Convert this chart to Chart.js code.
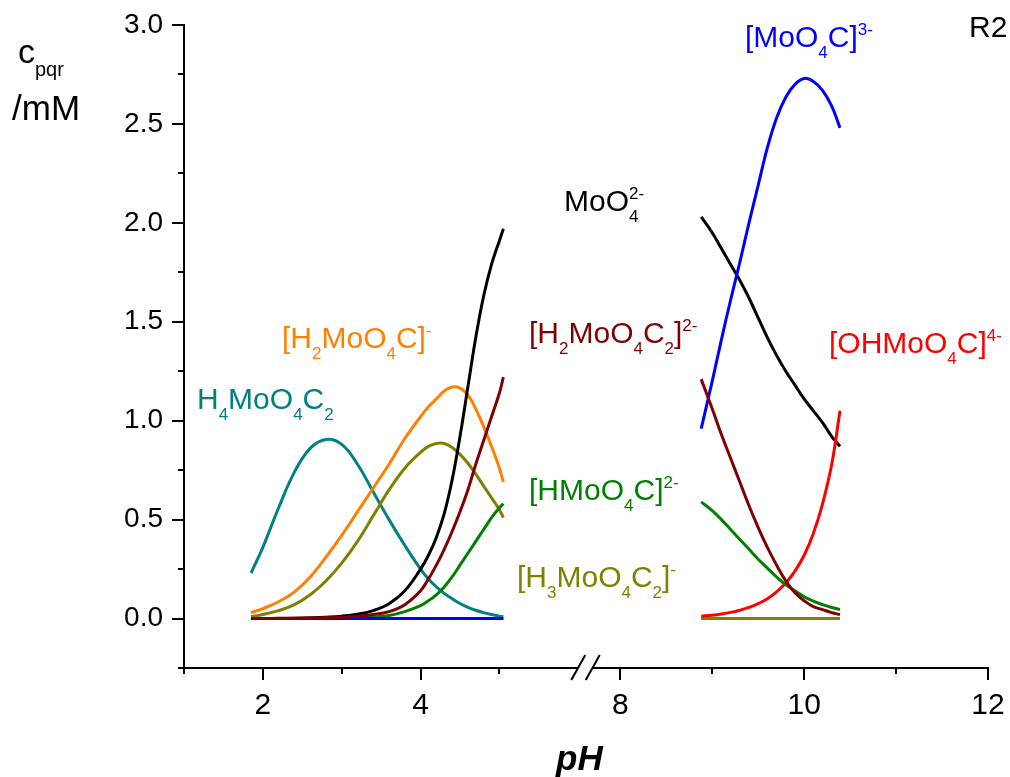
<!DOCTYPE html>
<html>
<head>
<meta charset="utf-8">
<title>c_pqr vs pH (R2)</title>
<script src="https://cdn.jsdelivr.net/npm/chart.js@4.4.1/dist/chart.umd.min.js"></script>
<style>
  html, body { margin: 0; padding: 0; background: #fff; }
  #wrap { width: 1010px; height: 777px; position: relative; }
</style>
</head>
<body>
<div id="wrap"><canvas id="speciesChart"></canvas></div>
<script>
// pH grid of the two calculated ranges (acid side and alkaline side)
const pHLow  = [1.85, 2.0, 2.2, 2.4, 2.6, 2.8, 3.0, 3.2, 3.4, 3.6, 3.8, 4.0, 4.1, 4.2, 4.3, 4.4, 4.5, 4.6, 4.7, 4.8, 4.9, 5.0, 5.05];
const pHHigh = [8.88, 9.0, 9.1, 9.2, 9.3, 9.4, 9.5, 9.6, 9.7, 9.8, 9.9, 10.0, 10.1, 10.2, 10.3, 10.39];

// concentrations / mM, acid side
const h4MoO4C2Low  = [0.23, 0.36, 0.56, 0.74, 0.86, 0.905, 0.88, 0.78, 0.64, 0.50, 0.37, 0.25, 0.20, 0.16, 0.127, 0.10, 0.076, 0.057, 0.042, 0.03, 0.02, 0.012, 0.009];
const h2MoO4CLow   = [0.03, 0.05, 0.085, 0.135, 0.21, 0.31, 0.42, 0.54, 0.66, 0.78, 0.91, 1.02, 1.07, 1.11, 1.15, 1.17, 1.165, 1.13, 1.06, 0.97, 0.87, 0.76, 0.69];
const h3MoO4C2Low  = [0.01, 0.02, 0.04, 0.07, 0.12, 0.19, 0.28, 0.39, 0.52, 0.65, 0.76, 0.84, 0.87, 0.885, 0.885, 0.865, 0.83, 0.785, 0.73, 0.67, 0.61, 0.55, 0.51];
const moO4Low      = [0, 0, 0.001, 0.002, 0.004, 0.007, 0.012, 0.022, 0.04, 0.075, 0.14, 0.25, 0.32, 0.41, 0.53, 0.70, 0.92, 1.17, 1.42, 1.63, 1.79, 1.91, 1.97];
const h2MoO4C2Low  = [0, 0, 0, 0.001, 0.002, 0.004, 0.007, 0.012, 0.02, 0.035, 0.07, 0.14, 0.20, 0.27, 0.35, 0.44, 0.54, 0.65, 0.78, 0.90, 1.02, 1.14, 1.22];
const hMoO4CLow    = [0, 0, 0, 0, 0, 0.001, 0.002, 0.004, 0.008, 0.015, 0.035, 0.065, 0.09, 0.12, 0.16, 0.21, 0.27, 0.33, 0.39, 0.45, 0.51, 0.56, 0.58];
const moO4CLow     = [0, 0, 0, 0, 0, 0, 0, 0, 0, 0, 0, 0, 0, 0, 0, 0, 0, 0, 0, 0, 0, 0, 0];
const ohMoO4CLow   = [0, 0, 0, 0, 0, 0, 0, 0, 0, 0, 0, 0, 0, 0, 0, 0, 0, 0, 0, 0, 0, 0, 0];

// concentrations / mM, alkaline side
const h4MoO4C2High = [0, 0, 0, 0, 0, 0, 0, 0, 0, 0, 0, 0, 0, 0, 0, 0];
const h2MoO4CHigh  = [0, 0, 0, 0, 0, 0, 0, 0, 0, 0, 0, 0, 0, 0, 0, 0];
const h3MoO4C2High = [0, 0, 0, 0, 0, 0, 0, 0, 0, 0, 0, 0, 0, 0, 0, 0];
const moO4High     = [2.03, 1.95, 1.87, 1.79, 1.71, 1.62, 1.52, 1.42, 1.33, 1.25, 1.18, 1.11, 1.05, 0.99, 0.92, 0.87];
const h2MoO4C2High = [1.21, 1.06, 0.93, 0.81, 0.69, 0.57, 0.46, 0.36, 0.27, 0.19, 0.13, 0.09, 0.06, 0.045, 0.03, 0.02];
const hMoO4CHigh   = [0.59, 0.545, 0.50, 0.45, 0.40, 0.35, 0.30, 0.255, 0.21, 0.17, 0.14, 0.11, 0.088, 0.07, 0.056, 0.046];
const moO4CHigh    = [0.96, 1.20, 1.41, 1.61, 1.80, 2.00, 2.19, 2.38, 2.53, 2.635, 2.70, 2.73, 2.715, 2.67, 2.59, 2.48];
const ohMoO4CHigh  = [0.012, 0.017, 0.023, 0.031, 0.042, 0.056, 0.075, 0.10, 0.135, 0.18, 0.24, 0.32, 0.43, 0.58, 0.78, 1.05];

// axis ticks (pH) and their labels
const xTickPH     = [1, 2, 3, 4, 5, 8, 9, 10, 11, 12];
const xTickLabels = ['', '2', '', '4', '', '8', '', '10', '', '12'];

const FONT = '"Liberation Sans", Arial, Helvetica, sans-serif';

// broken pH axis: the alkaline part sits right after the break, slightly wider
const BREAK_LOW = 6.0, BREAK_HIGH = 7.7;
const AXIS_AT_8 = 6.533, HIGH_STRETCH = 1.1657;
function toAxis(pH) {
  return pH < 7 ? pH : AXIS_AT_8 + (pH - 8) * HIGH_STRETCH;
}

function series(low, high) {
  const pts = pHLow.map((p, i) => ({ x: toAxis(p), y: low[i] }));
  pts.push({ x: toAxis(7), y: null });
  pHHigh.forEach((p, i) => pts.push({ x: toAxis(p), y: high[i] }));
  return pts;
}

function line(label, color, low, high) {
  return {
    label, data: series(low, high),
    borderColor: color, backgroundColor: color,
    borderWidth: 3, pointRadius: 0, fill: false,
    tension: 0.4, spanGaps: false
  };
}

// species names: _x subscript, ^x superscript
const speciesLabels = [
  { text: 'H_4MoO_4C_2',   color: '#008080', x: 197, y: 409 },
  { text: '[H_2MoO_4C]^-',  color: '#FF8000', x: 282, y: 348 },
  { text: 'MoO_4^2-',       color: '#000000', x: 564, y: 211 },
  { text: '[H_2MoO_4C_2]^2-', color: '#800000', x: 529, y: 343 },
  { text: '[HMoO_4C]^2-',   color: '#008000', x: 529, y: 500 },
  { text: '[H_3MoO_4C_2]^-', color: '#808000', x: 517, y: 587 },
  { text: '[MoO_4C]^3-',    color: '#0000FF', x: 745, y: 47 },
  { text: '[OHMoO_4C]^4-',  color: '#FF0000', x: 829, y: 353 }
];

function drawChem(ctx, str, x, y, color, size, small) {
  const parts = str.match(/_[0-9a-z]+|\^[0-9+-]+|[^_^]+/g);
  let cx = x, subX = null;
  ctx.fillStyle = color;
  ctx.textAlign = 'left';
  ctx.textBaseline = 'alphabetic';
  parts.forEach(p => {
    if (p[0] === '_') {
      const t = p.slice(1);
      ctx.font = small + 'px ' + FONT;
      ctx.fillText(t, cx, y + size * 0.37);
      subX = cx;
      cx += ctx.measureText(t).width;
    } else if (p[0] === '^') {
      const t = p.slice(1);
      ctx.font = small + 'px ' + FONT;
      const sx = subX !== null ? subX : cx;
      ctx.fillText(t, sx, y - size * 0.4);
      cx = Math.max(cx, sx + ctx.measureText(t).width);
      subX = null;
    } else {
      ctx.font = size + 'px ' + FONT;
      ctx.fillText(p, cx, y);
      cx += ctx.measureText(p).width;
      subX = null;
    }
  });
}

// tick marks, broken x axis line and all free text
const decorations = {
  id: 'decorations',
  afterDraw(chart) {
    const ctx = chart.ctx;
    const xs = chart.scales.x, ys = chart.scales.y;
    const area = chart.chartArea;
    ctx.save();
    ctx.strokeStyle = '#000';
    ctx.lineWidth = 2;
    ctx.lineCap = 'butt';

    // y ticks: long at labelled values, short in between
    ys.ticks.forEach(t => {
      const py = Math.round(ys.getPixelForValue(t.value));
      const major = Math.abs(t.value * 2 - Math.round(t.value * 2)) < 1e-6;
      const len = major ? 12 : 6;
      ctx.beginPath();
      ctx.moveTo(area.left - len, py);
      ctx.lineTo(area.left, py);
      ctx.stroke();
    });

    // x axis with a break
    const by = Math.round(area.bottom);
    const b1 = xs.getPixelForValue(toAxis(BREAK_LOW));
    const b2 = xs.getPixelForValue(toAxis(BREAK_HIGH));
    ctx.beginPath();
    ctx.moveTo(area.left - 1, by); ctx.lineTo(b1, by);
    ctx.moveTo(b2, by); ctx.lineTo(area.right + 1, by);
    ctx.stroke();
    [b1, b2].forEach(bx => {
      ctx.beginPath();
      ctx.moveTo(bx - 7, by + 12);
      ctx.lineTo(bx + 7, by - 13);
      ctx.stroke();
    });
    xs.ticks.forEach((t, i) => {
      const px = Math.round(xs.getPixelForValue(t.value));
      const len = xTickLabels[i] ? 12 : 6;
      ctx.beginPath();
      ctx.moveTo(px, by);
      ctx.lineTo(px, by + len);
      ctx.stroke();
    });

    // axis titles
    drawChem(ctx, 'c_pqr', 18, 63, '#000', 34, 20);
    ctx.font = '35px ' + FONT;
    ctx.fillText('/mM', 12, 120);
    ctx.font = 'italic bold 35px ' + FONT;
    ctx.fillText('pH', 556, 770);
    ctx.font = '30px ' + FONT;
    ctx.fillText('R2', 969, 37);

    speciesLabels.forEach(l => drawChem(ctx, l.text, l.x, l.y, l.color, 30, 17));
    ctx.restore();
  }
};

// first dataset is drawn on top
new Chart(document.getElementById('speciesChart'), {
  type: 'line',
  data: {
    datasets: [
      line('[H2MoO4C2]2-', '#800000', h2MoO4C2Low, h2MoO4C2High),
      line('[MoO4C]3-', '#0000FF', moO4CLow, moO4CHigh),
      line('[HMoO4C]2-', '#008000', hMoO4CLow, hMoO4CHigh),
      line('[OHMoO4C]4-', '#FF0000', ohMoO4CLow, ohMoO4CHigh),
      line('MoO4 2-', '#000000', moO4Low, moO4High),
      line('[H3MoO4C2]-', '#808000', h3MoO4C2Low, h3MoO4C2High),
      line('[H2MoO4C]-', '#FF8000', h2MoO4CLow, h2MoO4CHigh),
      line('H4MoO4C2', '#008080', h4MoO4C2Low, h4MoO4C2High)
    ]
  },
  options: {
    responsive: true,
    maintainAspectRatio: false,
    animation: false,
    layout: { padding: { left: 0, top: 25, right: 22, bottom: 0 } },
    plugins: { legend: { display: false }, tooltip: { enabled: false } },
    scales: {
      x: {
        type: 'linear',
        min: toAxis(1),
        max: toAxis(12),
        afterBuildTicks: scale => { scale.ticks = xTickPH.map(p => ({ value: toAxis(p) })); },
        afterFit: scale => {
          scale.height = 109;
          scale.paddingLeft = 0;
          scale.paddingRight = 0;
        },
        grid: { display: false, drawTicks: false },
        border: { display: false },
        ticks: {
          autoSkip: false, maxRotation: 0, padding: 20,
          color: '#000', font: { family: FONT, size: 30 },
          callback: (v, i) => xTickLabels[i]
        }
      },
      y: {
        min: -0.25,
        max: 3.0,
        afterFit: scale => {
          scale.width = 184;
          scale.paddingTop = 0;
          scale.paddingBottom = 0;
        },
        grid: { display: false, drawTicks: false },
        border: { display: true, color: '#000', width: 2 },
        ticks: {
          stepSize: 0.25, padding: 21,
          color: '#000', font: { family: FONT, size: 28 },
          callback: v => (v >= 0 && Math.abs(v * 2 - Math.round(v * 2)) < 1e-6) ? v.toFixed(1) : ''
        }
      }
    }
  },
  plugins: [decorations]
});
</script>
</body>
</html>
